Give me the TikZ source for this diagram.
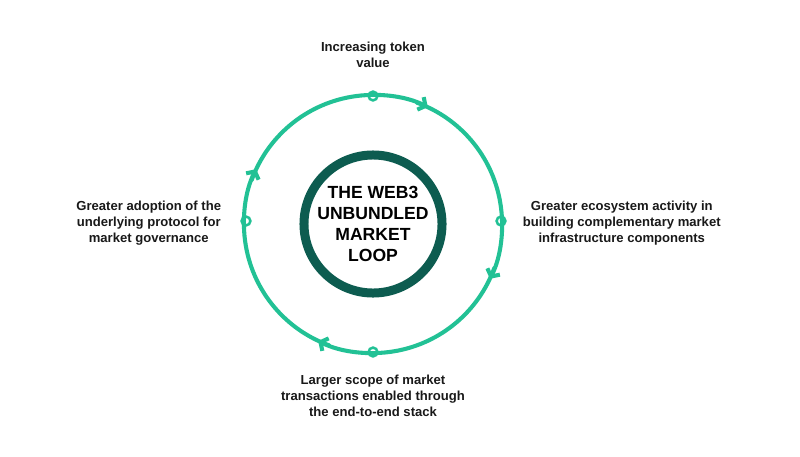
\documentclass[tikz,border=0pt]{standalone}
\usepackage{fontspec}
\setmainfont{Liberation Sans}
\usetikzlibrary{arrows.meta}
\definecolor{gr}{HTML}{22C195}
\definecolor{dk}{HTML}{0D5C50}
\begin{document}
\begin{tikzpicture}[x=0.025cm,y=0.025cm,
  lab/.style={font=\fontsize{9.3}{11.5}\selectfont\bfseries,align=center,text=black!90},
  dot/.style={circle,draw=gr,line width=1.8pt,minimum size=0.22cm,inner sep=0pt},
  arc/.style={draw=gr,line width=2.9pt,line cap=round,-{Straight Barb[length=4pt,width=10pt,line width=2.9pt,sep=3pt]}}]
\useasboundingbox (0,0) rectangle (800,456);
\coordinate (c) at (373,232);
\node[circle,draw=dk,line width=6.4pt,minimum size=3.45cm,inner sep=0pt,
  font=\fontsize{12.5}{15}\selectfont\bfseries,align=center,text=black] (ctr) at (c) {THE WEB3\\UNBUNDLED\\MARKET\\LOOP};
\node[dot] (t) at (373,360) {};
\node[dot] (r) at (501,235) {};
\node[dot] (b) at (373,104) {};
\node[dot] (l) at (246,235) {};
\node[lab] (tl) at (373,401) {Increasing token\\value};
\node[lab,anchor=west] (rl) at (518,233) {Greater ecosystem activity in\\building complementary market\\infrastructure components};
\node[lab] (bl) at (373,60) {Larger scope of market\\transactions enabled through\\the end-to-end stack};
\node[lab,anchor=east] (ll) at (226,233) {Greater adoption of the\\underlying protocol for\\market governance};
\foreach \s in {70,-20,-110,-200}
  \draw[arc] ([shift={(\s:3.225cm)}]c) arc[start angle=\s,end angle=\s-97,radius=3.225cm];
\end{tikzpicture}
\end{document}
